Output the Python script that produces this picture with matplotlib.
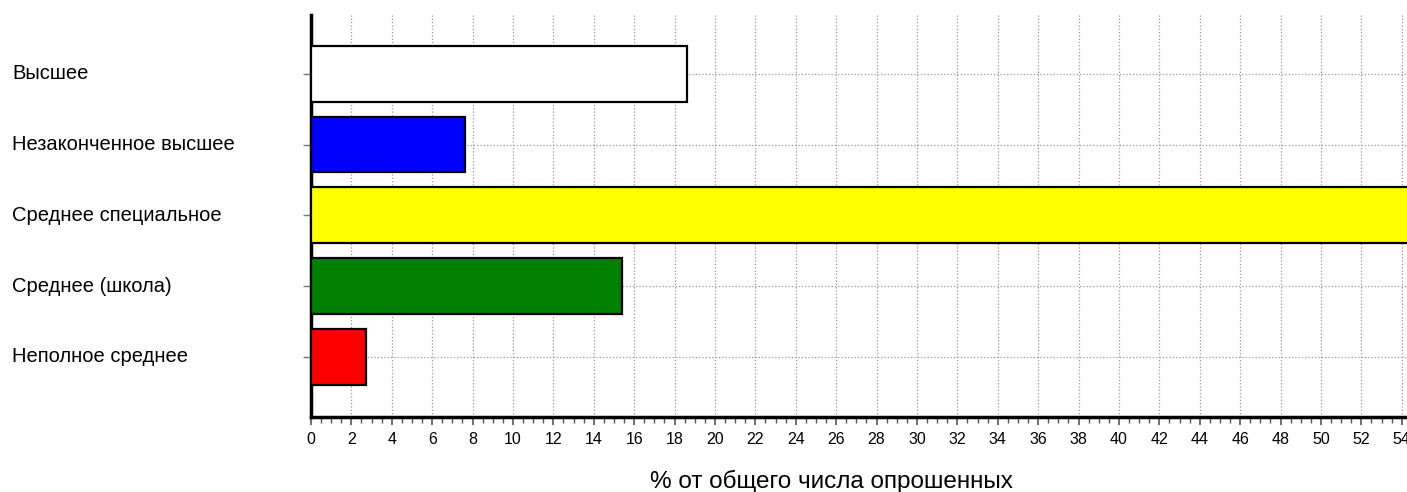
import matplotlib
matplotlib.use("Agg")
import matplotlib.pyplot as plt
import matplotlib.transforms as mtransforms
from matplotlib.ticker import MultipleLocator

# data (top to bottom as shown)
categories = ["Высшее", "Незаконченное высшее", "Среднее специальное",
              "Среднее (школа)", "Неполное среднее"]
values = [18.6, 7.6, 55.7, 15.4, 2.7]
colors = ["white", "blue", "yellow", "green", "red"]
xlabel = "% от общего числа опрошенных"

plt.rcParams['font.family'] = ['Liberation Sans', 'DejaVu Sans']

fig = plt.figure(figsize=(14.07, 4.92), dpi=100)
ax = fig.add_axes([311 / 1407, 1 - 417 / 492, 1 - 311 / 1407, (417 - 15) / 492])

ypos = list(range(len(categories)))[::-1]
ax.barh(ypos, values, height=0.79, color=colors, edgecolor="black", linewidth=1.6, zorder=3)

ax.set_xlim(0, 54.26)
ax.set_ylim(-0.85, 4.83)

ax.xaxis.set_major_locator(MultipleLocator(2))
ax.xaxis.set_minor_locator(MultipleLocator(0.5))
ax.set_yticks(ypos)
ax.set_yticklabels([])
ax.tick_params(axis="x", which="major", length=6, width=1.2, color="#555555",
               labelsize=11.5, pad=5)
ax.tick_params(axis="x", which="minor", length=4, width=1.0, color="#555555")
ax.tick_params(axis="y", length=6, width=1, color="#777777")
# last label is cut by the right edge in the reference too
for lbl in ax.get_xticklabels():
    lbl.set_clip_on(False)

ax.grid(axis="x", which="major", linestyle=":", color="#999999", linewidth=0.9, zorder=0)
ax.grid(axis="y", linestyle=":", color="#999999", linewidth=0.9, zorder=0)

for s in ["top", "right"]:
    ax.spines[s].set_visible(False)
for s in ["left", "bottom"]:
    ax.spines[s].set_linewidth(2.5)
    ax.spines[s].set_color("black")

trans = mtransforms.blended_transform_factory(fig.transFigure, ax.transData)
for y, name in zip(ypos, categories):
    ax.text(12 / 1407, y, name, transform=trans, ha="left", va="center", fontsize=14.5)

fig.text(831 / 1407, 1 - 481 / 492, xlabel, ha="center", va="center", fontsize=17.5)

fig.savefig("out.png", dpi=100)
